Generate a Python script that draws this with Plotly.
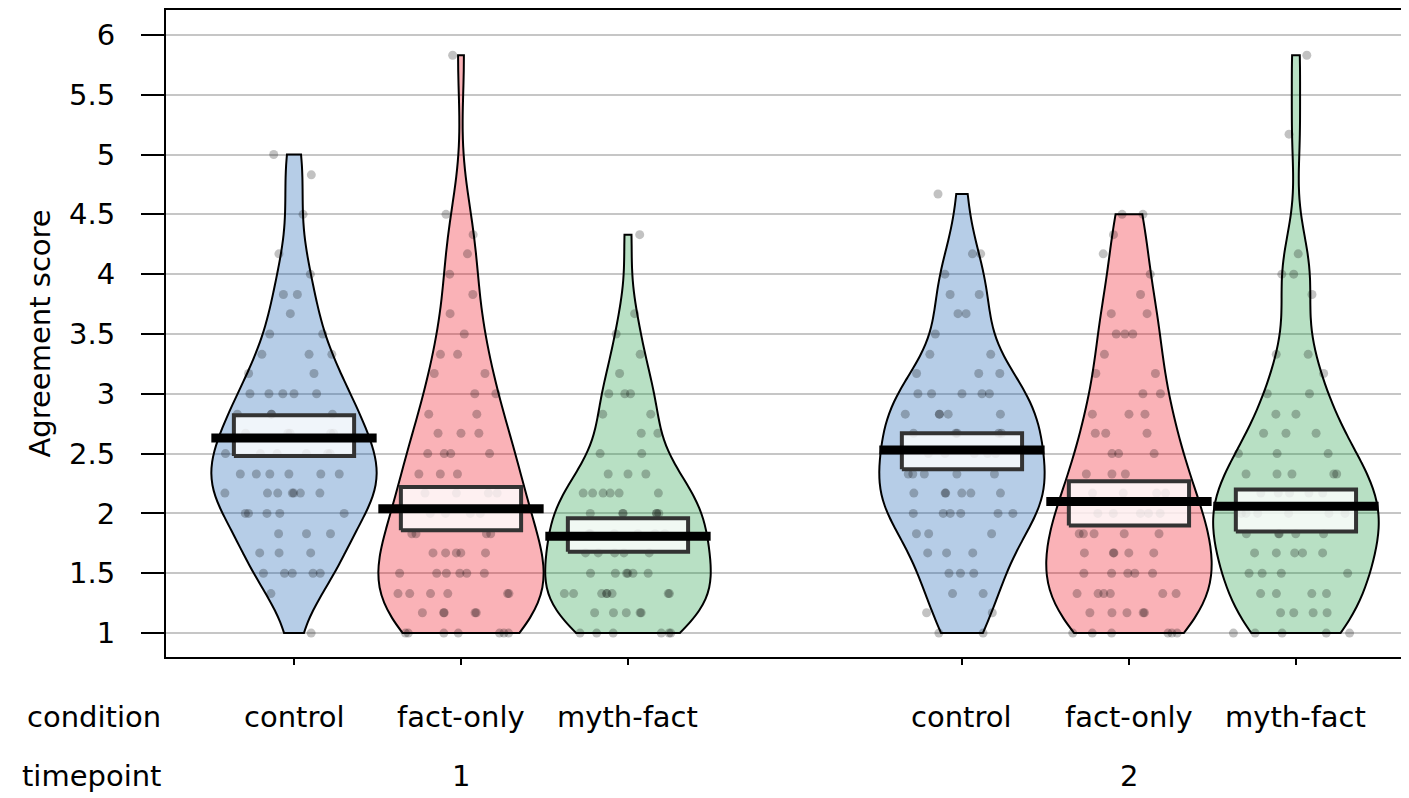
import numpy as np
import plotly.graph_objects as go

# ---------------- data ----------------
# score levels (means of six 1-7 items -> steps of 1/6)
LEVELS = [1.0, 1.17, 1.33, 1.5, 1.67, 1.83, 2.0, 2.17, 2.33, 2.5,
          2.67, 2.83, 3.0, 3.17, 3.33, 3.5, 3.67, 3.83, 4.0, 4.17,
          4.33, 4.5, 4.67, 4.83, 5.0, 5.17, 5.33, 5.5, 5.67, 5.83]

# number of respondents at each level, per bean
control_t1  = [1, 0, 1, 5, 3, 3, 5, 7, 6, 6, 5, 4, 5, 2, 3, 2, 1, 2, 1, 1, 0, 1, 0, 1, 1, 0, 0, 0, 0, 0]
factonly_t1 = [7, 5, 6, 6, 5, 4, 4, 4, 3, 4, 3, 2, 2, 2, 2, 1, 1, 1, 1, 1, 1, 1, 0, 0, 0, 0, 0, 0, 0, 1]
mythfact_t1 = [6, 5, 8, 6, 5, 6, 6, 6, 3, 2, 2, 2, 3, 1, 1, 1, 1, 0, 0, 0, 1, 0, 0, 0, 0, 0, 0, 0, 0, 0]
control_t2  = [2, 2, 2, 3, 3, 3, 6, 6, 5, 5, 5, 5, 5, 3, 2, 1, 2, 2, 1, 2, 0, 0, 1, 0, 0, 0, 0, 0, 0, 0]
factonly_t2 = [6, 5, 6, 5, 5, 5, 5, 4, 3, 3, 3, 3, 2, 2, 1, 3, 2, 1, 1, 1, 1, 2, 0, 0, 0, 0, 0, 0, 0, 0]
mythfact_t2 = [5, 4, 4, 4, 5, 5, 6, 5, 5, 3, 3, 2, 2, 1, 2, 0, 0, 1, 2, 1, 0, 0, 0, 0, 0, 1, 0, 0, 0, 1]

conditions = ["control", "fact-only", "myth-fact", "control", "fact-only", "myth-fact"]
timepoints = ["1", "2"]
positions = [1, 2, 3, 5, 6, 7]
timepoint_positions = [2, 6]

bean_means = [2.63, 2.04, 1.81, 2.53, 2.10, 2.06]
hdi_low    = [2.48, 1.86, 1.68, 2.37, 1.90, 1.85]
hdi_high   = [2.82, 2.22, 1.96, 2.67, 2.27, 2.20]

y_ticks = [1, 1.5, 2, 2.5, 3, 3.5, 4, 4.5, 5, 5.5, 6]
y_ticktext = ["1", "1.5", "2", "2.5", "3", "3.5", "4", "4.5", "5", "5.5", "6"]

# ---------------- styling ----------------
base_rgb = {"control": (12, 91, 176), "fact-only": (238, 0, 17), "myth-fact": (21, 152, 61)}
FONT = "DejaVu Sans"
FS = 29
HALF_W = 0.495
BOX_HALF = 0.36

groups = [control_t1, factonly_t1, mythfact_t1, control_t2, factonly_t2, mythfact_t2]

fig = go.Figure()

for counts, pos, cond in zip(groups, positions, conditions):
    vals = np.repeat(np.array(LEVELS), np.array(counts))
    n = len(vals)
    sd = np.std(vals, ddof=1)
    iqr = np.percentile(vals, 75) - np.percentile(vals, 25)
    bw = 0.9 * min(sd, iqr / 1.34) * n ** (-0.2)
    r, g, b = base_rgb[cond]
    fig.add_trace(go.Violin(
        x=[pos] * n, y=vals,
        points="all", pointpos=0, jitter=1.0,
        marker=dict(color="rgba(0,0,0,0.24)", size=9, line=dict(width=0)),
        fillcolor=f"rgba({r},{g},{b},0.3)",
        line=dict(color="black", width=2),
        spanmode="hard", bandwidth=bw,
        scalemode="width", width=2 * HALF_W,
        box_visible=False, meanline_visible=False,
        showlegend=False, hoverinfo="skip",
    ))

# inference boxes
for pos, lo, hi in zip(positions, hdi_low, hdi_high):
    fig.add_trace(go.Scatter(
        x=[pos - BOX_HALF, pos + BOX_HALF, pos + BOX_HALF, pos - BOX_HALF, pos - BOX_HALF],
        y=[lo, lo, hi, hi, lo],
        mode="lines", fill="toself", fillcolor="rgba(255,255,255,0.8)",
        line=dict(color="#333333", width=4),
        showlegend=False, hoverinfo="skip",
    ))

# bean means
for pos, m in zip(positions, bean_means):
    fig.add_trace(go.Scatter(
        x=[pos - HALF_W, pos + HALF_W], y=[m, m],
        mode="lines", line=dict(color="black", width=9),
        showlegend=False, hoverinfo="skip",
    ))

# plot area: 1243 x 649 px
ROW1 = -60 / 649
ROW2 = -119 / 649
LEFT = -3 / 1243
annotations = []
for pos, cond in zip(positions, conditions):
    annotations.append(dict(x=pos, y=ROW1, xref="x", yref="paper", text=cond,
                            showarrow=False, xanchor="center", yanchor="middle",
                            font=dict(family=FONT, size=FS, color="black")))
for pos, tp in zip(timepoint_positions, timepoints):
    annotations.append(dict(x=pos, y=ROW2, xref="x", yref="paper", text=tp,
                            showarrow=False, xanchor="center", yanchor="middle",
                            font=dict(family=FONT, size=FS, color="black")))
annotations.append(dict(x=LEFT, y=ROW1, xref="paper", yref="paper", text="condition",
                        showarrow=False, xanchor="right", yanchor="middle",
                        font=dict(family=FONT, size=FS, color="black")))
annotations.append(dict(x=LEFT, y=ROW2, xref="paper", yref="paper", text="timepoint",
                        showarrow=False, xanchor="right", yanchor="middle",
                        font=dict(family=FONT, size=FS, color="black")))
annotations.append(dict(x=-127 / 1243, y=0.5, xref="paper", yref="paper", text="Agreement score",
                        textangle=-90, showarrow=False, xanchor="center", yanchor="middle",
                        font=dict(family=FONT, size=FS, color="black")))

# page body has an 8px margin -> figure is 1401x790 placed at (8,8)
fig.update_layout(
    width=1401, height=790,
    margin=dict(l=158, r=0, t=0, b=141),
    paper_bgcolor="white", plot_bgcolor="white",
    violinmode="overlay", violingap=0, violingroupgap=0,
    showlegend=False,
    annotations=annotations,
    xaxis=dict(range=[0.2335, 7.677], showgrid=False, zeroline=False,
               showline=True, mirror=True, linecolor="black", linewidth=2,
               ticks="outside", tickvals=positions, ticklen=6, tickwidth=2,
               tickcolor="black", showticklabels=False),
    yaxis=dict(range=[0.8, 6.208], showgrid=True, gridcolor="#c6c6c6", gridwidth=2,
               zeroline=False, showline=True, linecolor="black", linewidth=2,
               ticks="outside", tickvals=y_ticks, ticktext=y_ticktext,
               ticklen=23, tickwidth=2, tickcolor="black",
               ticklabelstandoff=20,
               tickfont=dict(family=FONT, size=FS, color="black")),
)

fig.write_html("out.html")
